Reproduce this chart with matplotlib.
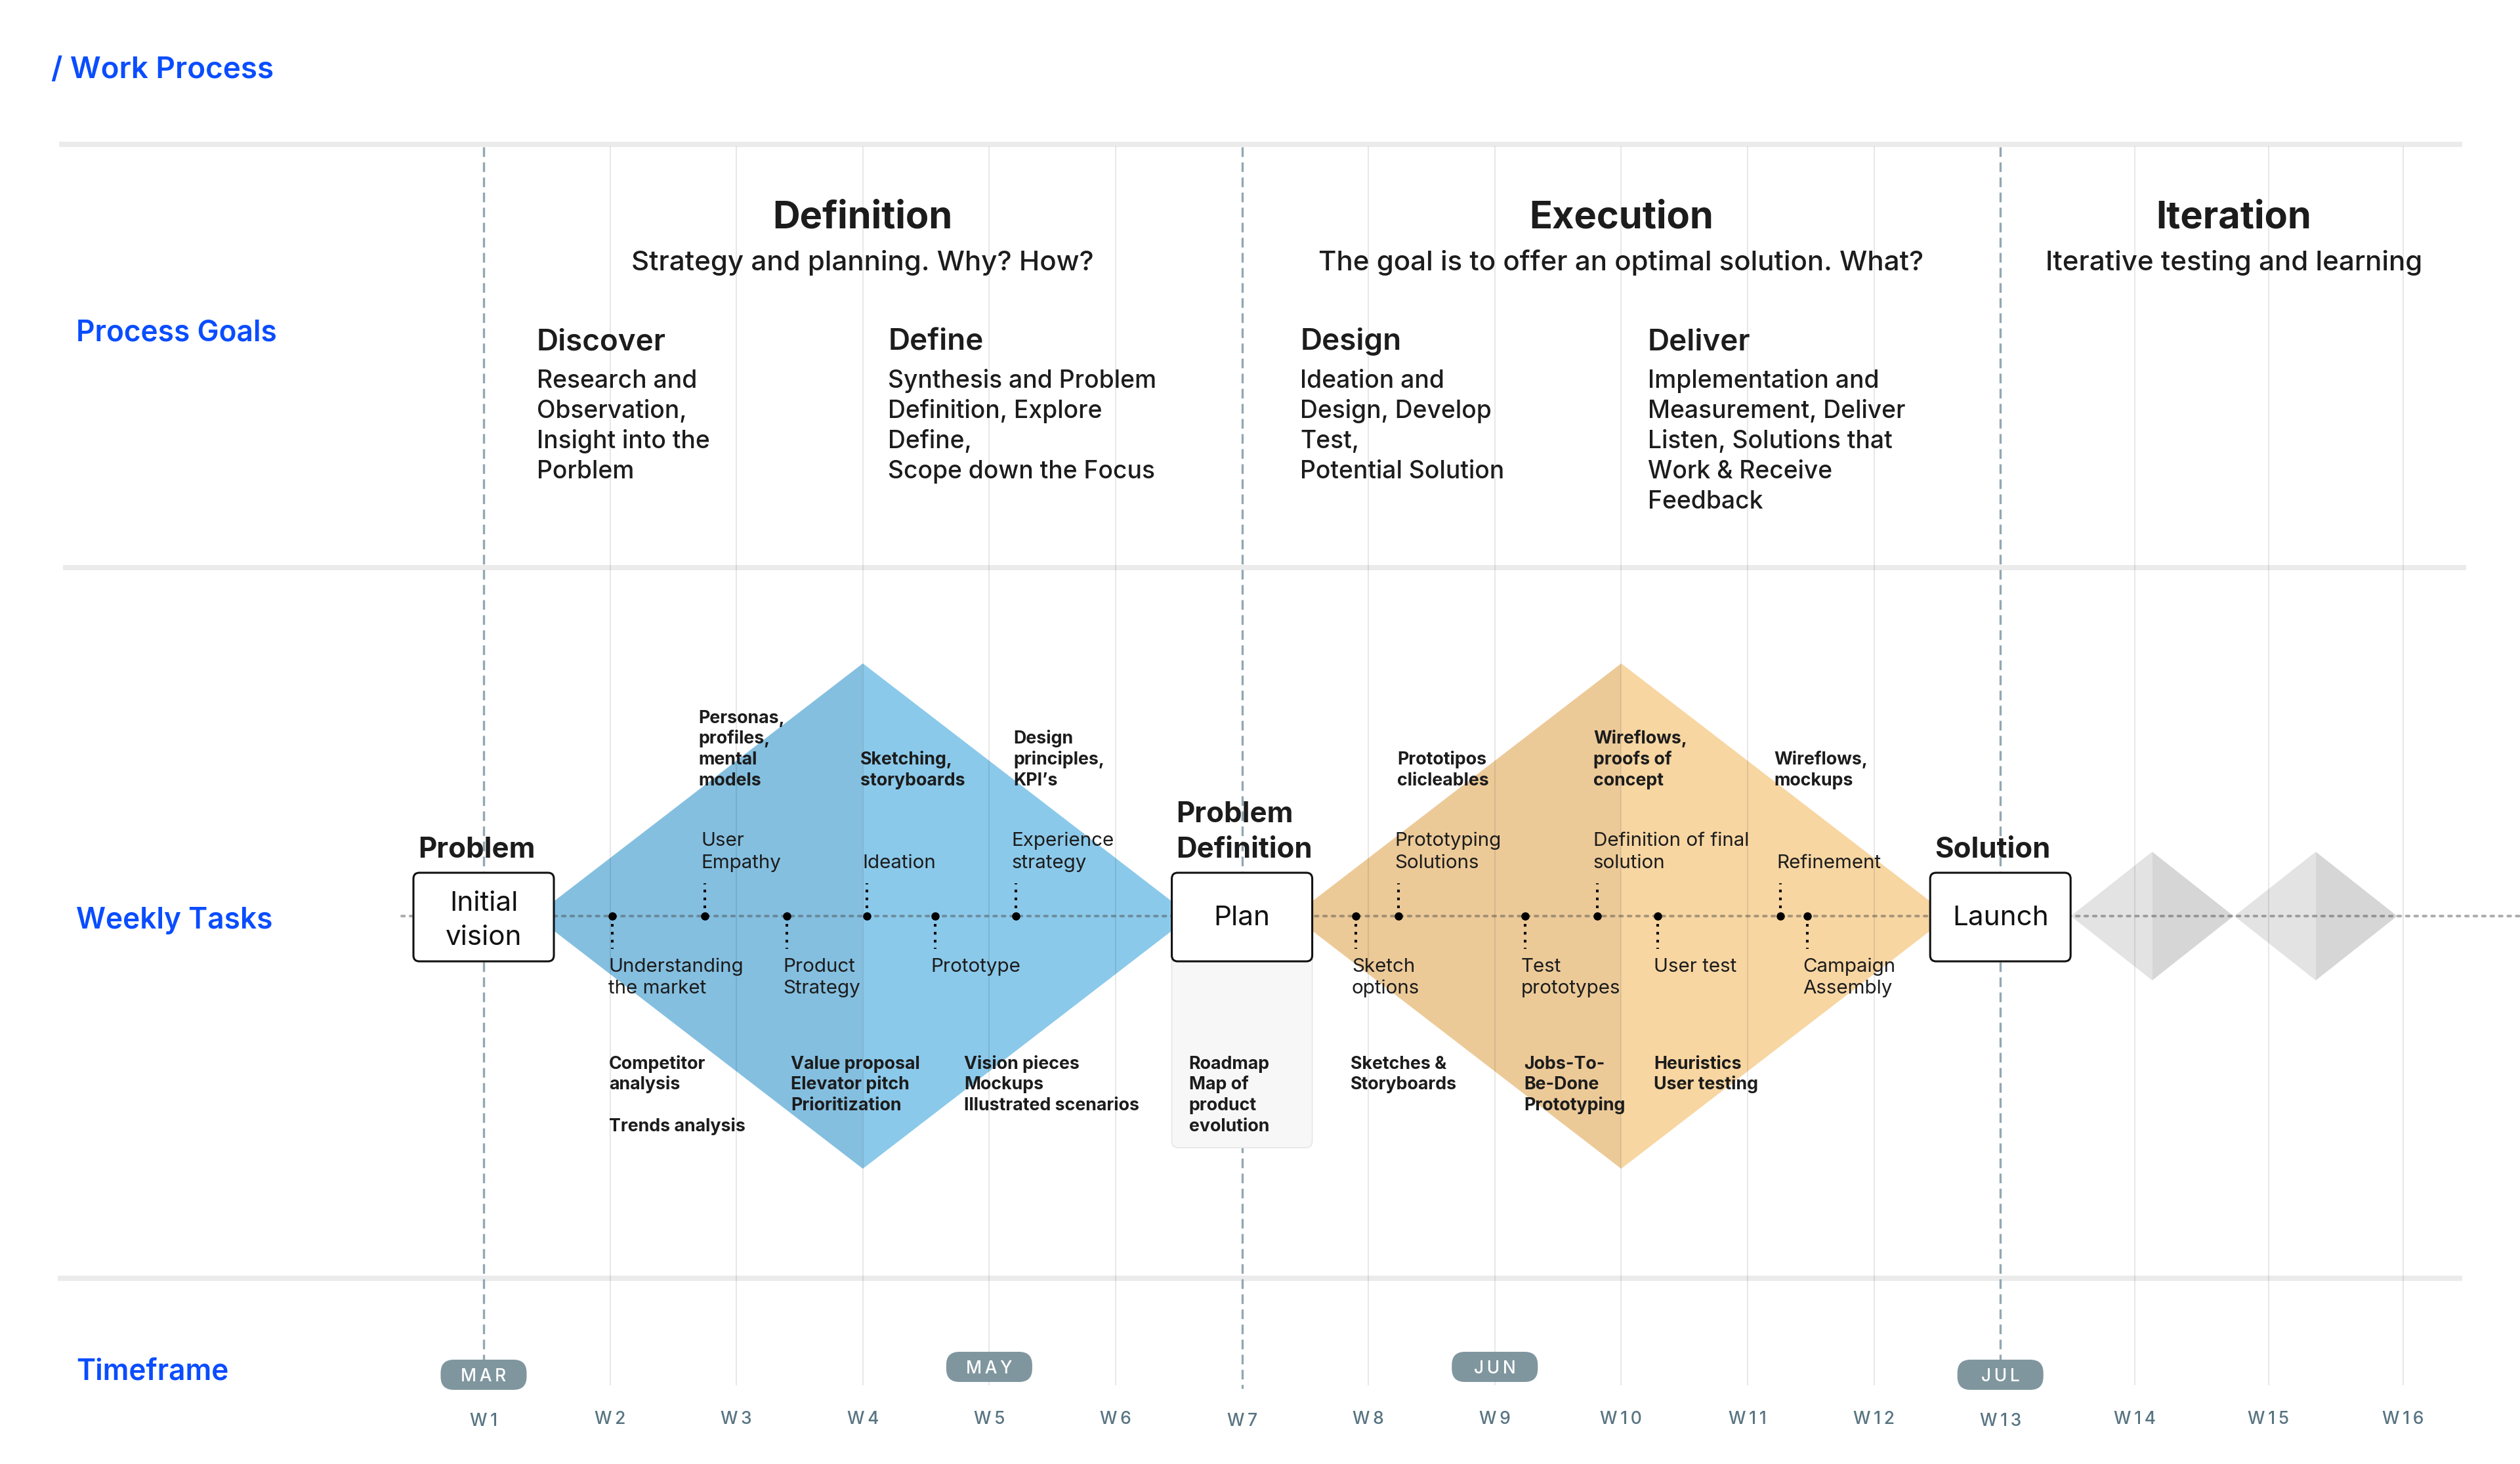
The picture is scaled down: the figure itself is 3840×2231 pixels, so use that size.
import matplotlib
matplotlib.use("Agg")
import matplotlib.pyplot as plt
import numpy as np
from matplotlib.patches import FancyBboxPatch, Polygon

plt.rcParams["font.family"] = ["Inter", "DejaVu Sans"]

# ---- data -------------------------------------------------------------
weeks = list(range(1, 17))
week_labels = [f"W{w}" for w in weeks]
phase_weeks = [1, 7, 13]                     # dashed boundaries / milestone boxes

months = ["MAR", "MAY", "JUN", "JUL"]
month_weeks = [1, 5, 9, 13]

phase_names = ["Definition", "Execution", "Iteration"]
phase_subtitles = ["Strategy and planning. Why? How?",
                   "The goal is to offer an optimal solution. What?",
                   "Iterative testing and learning"]
phase_center = [4, 10, 14.74]

step_names = ["Discover", "Define", "Design", "Deliver"]
step_weeks = [1.42, 4.20, 7.46, 10.21]
step_texts = ["Research and\nObservation,\nInsight into the\nPorblem",
              "Synthesis and Problem\nDefinition, Explore\nDefine,\nScope down the Focus",
              "Ideation and\nDesign, Develop\nTest,\nPotential Solution",
              "Implementation and\nMeasurement, Deliver\nListen, Solutions that\nWork & Receive\nFeedback"]

milestone_titles = ["Problem", "Problem\nDefinition", "Solution"]
milestone_boxes = ["Initial\nvision", "Plan", "Launch"]

task_weeks = [2.02, 2.75, 3.40, 4.03, 4.57, 5.21,
              7.90, 8.24, 9.24, 9.81, 10.29, 11.26, 11.47]
task_texts = ["Understanding\nthe market", "User\nEmpathy", "Product\nStrategy",
              "Ideation", "Prototype", "Experience\nstrategy",
              "Sketch\noptions", "Prototyping\nSolutions", "Test\nprototypes",
              "Definition of final\nsolution", "User test", "Refinement",
              "Campaign\nAssembly"]
task_up = [False, True, False, True, False, True,
           False, True, False, True, False, True, False]

art_up_weeks = [2.70, 3.98, 5.19, 8.23, 9.78, 11.21]
art_up_texts = ["Personas,\nprofiles,\nmental\nmodels", "Sketching,\nstoryboards",
                "Design\nprinciples,\nKPI\u2019s", "Prototipos\nclicleables",
                "Wireflows,\nproofs of\nconcept", "Wireflows,\nmockups"]
art_down_weeks = [1.99, 3.43, 4.80, 6.58, 7.86, 9.23, 10.26]
art_down_texts = ["Competitor\nanalysis\n\nTrends analysis",
                  "Value proposal\nElevator pitch\nPrioritization",
                  "Vision pieces\nMockups\nIllustrated scenarios",
                  "Roadmap\nMap of\nproduct\nevolution",
                  "Sketches &\nStoryboards",
                  "Jobs-To-\nBe-Done\nPrototyping",
                  "Heuristics\nUser testing"]

diamond_weeks = [4, 10]                      # blue discovery / orange delivery
diamond_colors = [("#84bfe0", "#8bc9ea"), ("#ecca98", "#f7d6a2")]
iter_weeks = [14.13, 15.35]

# ---- layout -----------------------------------------------------------
W, H = 3840, 2231
week_px = list(737 + np.arange(13) * 192.6) + [3253, 3457, 3662]


def wx(w):
    return float(np.interp(w, weeks, week_px))


BLUE = "#0a4dff"
INK = "#1c1c1c"
LINE_Y = 1396

fig = plt.figure(figsize=(W / 100, H / 100), dpi=100)
ax = fig.add_axes([0, 0, 1, 1])
ax.set_xlim(0, W)
ax.set_ylim(H, 0)
ax.axis("off")


def lines(x, y, text, dy, bottom=False, **kw):
    parts = text.split("\n")
    if bottom:
        y = y - (len(parts) - 1) * dy
    for i, s in enumerate(parts):
        ax.text(x, y + i * dy, s, va="baseline", zorder=8, **kw)


# bands
for y, x0, x1 in [(220, 90, 3752), (865, 96, 3758), (1948, 88, 3752)]:
    ax.plot([x0, x1], [y, y], color="#ebebeb", lw=5.8, solid_capstyle="butt", zorder=1)

# diamonds (two halves each)
for w, (cl, cr) in zip(diamond_weeks, diamond_colors):
    cx, hw, hh = wx(w), 500, 385
    ax.add_patch(Polygon([[cx, LINE_Y - hh], [cx - hw, LINE_Y], [cx, LINE_Y + hh]],
                         closed=True, fc=cl, ec="none", zorder=2))
    ax.add_patch(Polygon([[cx, LINE_Y - hh], [cx + hw, LINE_Y], [cx, LINE_Y + hh]],
                         closed=True, fc=cr, ec="none", zorder=2))
for w in iter_weeks:
    cx, hw, hh = wx(w), 124, 98
    ax.add_patch(Polygon([[cx, LINE_Y - hh], [cx - hw, LINE_Y], [cx, LINE_Y + hh]],
                         closed=True, fc="#e3e3e3", ec="none", zorder=2))
    ax.add_patch(Polygon([[cx, LINE_Y - hh], [cx + hw, LINE_Y], [cx, LINE_Y + hh]],
                         closed=True, fc="#d6d6d6", ec="none", zorder=2))

# vertical week lines
for w in weeks:
    if w in phase_weeks:
        ax.plot([wx(w), wx(w)], [224, 2116], color="#93a7b2", lw=2.4,
                dashes=(4.4, 2.5), zorder=3)
    else:
        ax.plot([wx(w), wx(w)], [224, 2110], color="black", alpha=0.09, lw=1.5, zorder=3)

# timeline
ax.plot([612, W], [LINE_Y, LINE_Y], color="#4a4a4a", alpha=0.45, lw=2.9,
        dashes=(1.1, 2.1), dash_capstyle="round", zorder=4)

for w, t, up in zip(task_weeks, task_texts, task_up):
    x = wx(w)
    y_end = LINE_Y - 50 if up else LINE_Y + 50
    ax.plot([x, x], [LINE_Y, y_end], color="black", lw=2.9, dashes=(1, 2),
            solid_capstyle="butt", dash_capstyle="butt", zorder=5)
    ax.plot(x, LINE_Y, "o", ms=8, color="black", zorder=5)
    if up:
        lines(x - 6, 1323, t, 34, bottom=True, fontsize=21.3, color=INK)
    else:
        lines(x - 6, 1481, t, 33, fontsize=21.3, color=INK)

for w, t in zip(art_up_weeks, art_up_texts):
    lines(wx(w), 1197, t, 31.8, bottom=True, fontsize=19.3, fontweight="bold", color=INK)
for w, t in zip(art_down_weeks, art_down_texts):
    lines(wx(w), 1629, t, 31.5, fontsize=19.3, fontweight="bold", color=INK)

# milestone boxes
for w, title, label in zip(phase_weeks, milestone_titles, milestone_boxes):
    cx = wx(w)
    if label == "Plan":
        ax.add_patch(FancyBboxPatch((cx - 107, 1420), 214, 329,
                                    boxstyle="round,pad=0,rounding_size=10",
                                    fc="#f7f7f7", ec="#e6e6e6", lw=1.2, zorder=6))
    ax.add_patch(FancyBboxPatch((cx - 107, 1330), 214, 135,
                                boxstyle="round,pad=0,rounding_size=9",
                                fc="white", ec="#111111", lw=2.2, zorder=7))
    lines(cx - 100, 1307, title, 54, bottom=True, fontsize=31.5,
          fontweight="bold", color=INK)
    y0 = 1388 if "\n" in label else 1410
    lines(cx, y0, label, 52, fontsize=30.4, color="#111111", ha="center")

# process goals
for name, sub, w in zip(phase_names, phase_subtitles, phase_center):
    ax.text(wx(w), 348, name, ha="center", va="baseline", fontsize=41.6,
            fontweight="bold", color=INK, zorder=8)
    ax.text(wx(w), 412, sub, ha="center", va="baseline", fontsize=30.3,
            fontweight="medium", color=INK, zorder=8)
for name, w, t in zip(step_names, step_weeks, step_texts):
    ax.text(wx(w), 533, name, va="baseline", fontsize=33, fontweight="semibold",
            color=INK, zorder=8)
    lines(wx(w), 591, t, 46, fontsize=26.8, fontweight="medium", color=INK)

# timeframe
for w, lab in zip(weeks, week_labels):
    y = 2173 if w in phase_weeks else 2170
    ax.text(wx(w), y, "\u2009".join(lab), ha="center", va="baseline", fontsize=19,
            fontweight="medium", color="#587482", zorder=8)
for m, w in zip(months, month_weeks):
    cy = 2095 if w in phase_weeks else 2083
    ax.add_patch(FancyBboxPatch((wx(w) - 65.5, cy - 23), 131, 46,
                                boxstyle="round,pad=0,rounding_size=20",
                                fc="#80969f", ec="none", zorder=7))
    ax.text(wx(w), cy, "\u2009".join(m), ha="center", va="center_baseline",
            fontsize=19, fontweight="medium", color="white", zorder=8)

# titles
ax.text(78, 119, "/ Work Process", va="baseline", fontsize=33,
        fontweight="semibold", color=BLUE)
for lab, y in [("Process Goals", 520), ("Weekly Tasks", 1415), ("Timeframe", 2103)]:
    ax.text(116, y, lab, va="baseline", fontsize=31.8, fontweight="semibold", color=BLUE)

fig.savefig("out.png", dpi=100, facecolor="white")
